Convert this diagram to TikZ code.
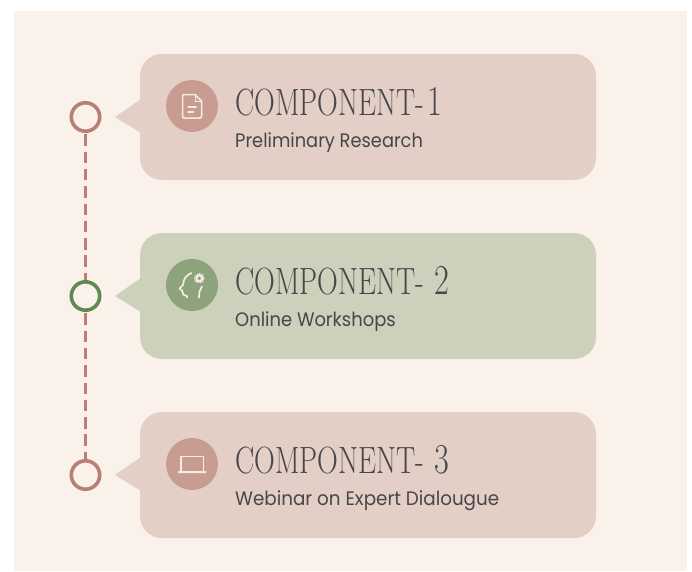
\documentclass[tikz,border=0pt]{standalone}
\usepackage{fontspec}
\usepackage{graphicx}
\newfontfamily\subfont{Poppins}
\definecolor{pagebg}{HTML}{F9F1EA}
\definecolor{pinkbox}{HTML}{E3CFC6}
\definecolor{pinkicon}{HTML}{C89C91}
\definecolor{greenbox}{HTML}{CDD0BB}
\definecolor{greenicon}{HTML}{8DA37C}
\definecolor{ringpink}{HTML}{B88072}
\definecolor{ringgreen}{HTML}{5F8853}
\definecolor{inktext}{HTML}{47474A}
\definecolor{iconline}{HTML}{F6ECE6}
\newcommand{\ttltext}[2]{\scalebox{0.757}[1]{\fontsize{38}{38}\selectfont COMPONENT-\hspace{#1}\scalebox{1.12}{#2}}}
\newcommand{\subtext}[2]{\scalebox{#1}[1]{\subfont\fontsize{19.5}{20}\selectfont #2}}
\tikzset{
  x=1pt,y=-1pt,
  bubble/.style={rounded corners=22pt,minimum width=456pt,minimum height=126pt,inner sep=0pt,draw=none},
  ring/.style={circle,draw,line width=3.6pt,fill=pagebg,minimum size=28.4pt,inner sep=0pt,outer sep=0pt},
  iconbg/.style={circle,minimum size=52pt,inner sep=0pt},
  titletxt/.style={anchor=base west,inner sep=0pt,text=inktext},
  subtxt/.style={anchor=base west,inner sep=0pt,text=inktext},
  timeline/.style={draw=ringpink,line width=3.6pt,dash pattern=on 11.5pt off 5.8pt},
  ico/.style={draw=iconline,line width=1.5pt,line cap=round,line join=round},
}
\begin{document}
\begin{tikzpicture}
\useasboundingbox (0,0) rectangle (692,571);
\fill[pagebg] (14,11) rectangle (687,571);
% bubbles
\node[bubble,fill=pinkbox] (b1) at (368,117) {};
\node[bubble,fill=greenbox] (b2) at (368,296) {};
\node[bubble,fill=pinkbox] (b3) at (368,475) {};
\fill[pinkbox] (141,99) -- (115,117) -- (141,133) -- cycle;
\fill[greenbox] (141,278) -- (115,296) -- (141,312) -- cycle;
\fill[pinkbox] (141,457) -- (115,475) -- (141,491) -- cycle;
% rings and timeline
\coordinate (p1) at (85.5,117);
\coordinate (p2) at (85.5,296);
\coordinate (p3) at (85.5,475);
\draw[timeline] (p1) -- (p2);
\draw[timeline] (p2) -- (p3);
\node[ring,draw=ringpink] (r1) at (p1) {};
\node[ring,draw=ringgreen] (r2) at (p2) {};
\node[ring,draw=ringpink] (r3) at (p3) {};
% icon discs
\node[iconbg,fill=pinkicon] (i1) at (192,106) {};
\node[iconbg,fill=greenicon] (i2) at (192,285) {};
\node[iconbg,fill=pinkicon] (i3) at (192,464) {};
% document icon
\draw[ico] (184.5,94.5) -- (195,94.5) -- (201.5,101) -- (201.5,116) .. controls (201.5,117.5) and (201,118) .. (199.5,118) -- (184.5,118) .. controls (183,118) and (182.5,117.5) .. (182.5,116) -- (182.5,96.5) .. controls (182.5,95) and (183,94.5) .. (184.5,94.5);
\draw[ico,line width=1pt] (195,94.5) -- (195,101) -- (201.5,101);
\draw[ico] (188,107) -- (196,107);
\draw[ico] (188,112) -- (193.5,112);
% head icon
\draw[ico,line width=1.7pt] (191.5,273) .. controls (186,275) and (183.5,279) .. (183,285) -- (179.5,288.5) -- (182.5,291) -- (183,294) .. controls (183.5,295.5) and (185,295) .. (187,296) -- (187,297.5);
\draw[ico,line width=1.7pt] (199,297.5) .. controls (199,292) and (200,289) .. (202,286.5);
\draw[iconline,line width=2.2pt,dash pattern=on 1.3pt off 1.1pt] (199.3,278.3) circle (4.2);
\fill[iconline] (199.3,278.3) circle (4);
\fill[greenicon] (199.3,278.3) circle (1.9);
% laptop icon
\draw[ico,line cap=butt,line join=miter,line width=1.6pt] (181,471) -- (181,456.5) -- (203.5,456.5) -- (203.5,471);
\fill[iconline] (178,471) -- (206,471) -- (206,472.7) -- (205,473.2) -- (179,473.2) -- (178,472.7) -- cycle;
% text
\node[titletxt] (t1) at (235,115) {\ttltext{5pt}{1}};
\node[titletxt] (t2) at (235,294) {\ttltext{14pt}{2}};
\node[titletxt] (t3) at (235,473) {\ttltext{14pt}{3}};
\node[subtxt] (s1) at (235,147) {\subtext{0.915}{Preliminary Research}};
\node[subtxt] (s2) at (235,326) {\subtext{0.92}{Online Workshops}};
\node[subtxt] (s3) at (235,505) {\subtext{0.94}{Webinar on Expert Dialougue}};
\end{tikzpicture}
\end{document}
